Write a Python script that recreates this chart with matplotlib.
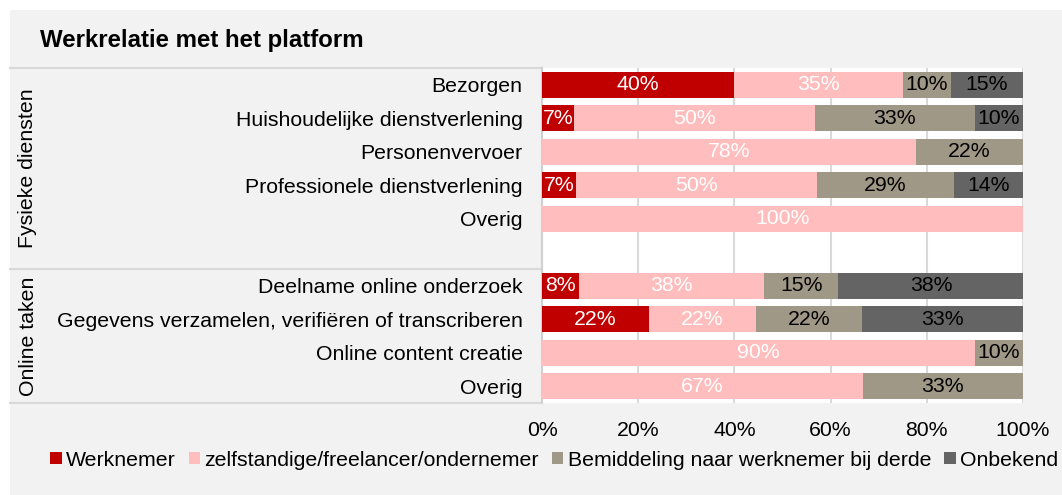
import matplotlib
matplotlib.use('Agg')
from matplotlib import pyplot as plt
from matplotlib.patches import Rectangle
from matplotlib.transforms import blended_transform_factory
import numpy as np

plt.rcParams['font.family'] = ['Liberation Sans', 'DejaVu Sans']

# data (percentages, '' = empty spacer row)
categories = ['Bezorgen', 'Huishoudelijke dienstverlening', 'Personenvervoer',
              'Professionele dienstverlening', 'Overig', '',
              'Deelname online onderzoek',
              'Gegevens verzamelen, verifiëren of transcriberen',
              'Online content creatie', 'Overig']
werknemer = [40, 6.7, 0, 7.1, 0, 0, 7.7, 22.2, 0, 0]
zelfstandig = [35, 50, 77.8, 50, 100, 0, 38.5, 22.2, 90, 66.7]
bemiddeling = [10, 33.3, 22.2, 28.6, 0, 0, 15.4, 22.2, 10, 33.3]
onbekend = [15, 10, 0, 14.3, 0, 0, 38.5, 33.3, 0, 0]
series_names = ['Werknemer', 'zelfstandige/freelancer/ondernemer',
                'Bemiddeling naar werknemer bij derde', 'Onbekend']
groups = ['Fysieke diensten', 'Online taken']
group_edges = [-0.5, 5.5, 9.5]

colors = ['#C00000', '#FFBDBD', '#A09886', '#646464']
text_colors = ['white', 'white', 'black', 'black']
W, H = 1062, 495
FS = 15.3

fig = plt.figure(figsize=(W / 100, H / 100), dpi=100)
fig.patch.set_facecolor('white')
fig.add_artist(Rectangle((10 / W, 0), 1 - 10 / W, 1 - 10 / H, transform=fig.transFigure,
                         facecolor='#F2F2F2', edgecolor='none', zorder=-5))

ax = fig.add_axes([542 / W, 1 - 403 / H, (1023 - 542) / W, (403 - 68) / H])
ax.set_facecolor('white')

y = np.arange(len(categories))
left = np.zeros(len(categories))
for vals, name, c, tc in zip([werknemer, zelfstandig, bemiddeling, onbekend],
                             series_names, colors, text_colors):
    vals = np.array(vals, dtype=float)
    ax.barh(y, vals, left=left, height=0.78, color=c, label=name, zorder=3)
    for yi, (l, v) in enumerate(zip(left, vals)):
        if v > 0:
            ax.text(l + v / 2, yi, f'{v:.0f}%', ha='center', va='center',
                    color=tc, fontsize=FS, zorder=4)
    left += vals

ax.set_xlim(0, 100)
ax.set_ylim(9.5, -0.5)
ax.set_xticks(np.arange(0, 101, 20))
ax.set_xticklabels([f'{t}%' for t in range(0, 101, 20)])
ax.set_yticks(y)
ax.set_yticklabels(categories)
ax.tick_params(axis='both', length=0, labelsize=FS, colors='black')
ax.tick_params(axis='y', pad=14)
ax.tick_params(axis='x', pad=13)
ax.grid(axis='x', color='#D9D9D9', linewidth=1.5, zorder=0)
ax.set_axisbelow(True)
for s in ['top', 'right', 'bottom']:
    ax.spines[s].set_visible(False)
ax.spines['left'].set_color('#D0D0D0')
ax.spines['left'].set_linewidth(1.5)

# group separators and labels on the left
tr = blended_transform_factory(fig.transFigure, ax.transData)
for e in group_edges:
    ax.plot([10 / W, 542 / W], [e, e], transform=tr, color='#D9D9D9',
            linewidth=1.5, clip_on=False)
for g, a, b in zip(groups, group_edges[:-1], group_edges[1:]):
    ax.text(28 / W, (a + b) / 2, g, transform=tr, rotation=90, ha='center',
            va='center', fontsize=FS)

fig.text(40 / W, 1 - 40 / H, 'Werkrelatie met het platform', fontsize=17.3,
         fontweight='bold', ha='left', va='center')

fig.legend(loc='center', bbox_to_anchor=(554 / W, 1 - 460 / H), ncol=4,
           frameon=False, fontsize=FS, handlelength=0.55, handleheight=0.55,
           handletextpad=0.2, columnspacing=0.6, borderpad=0)

fig.savefig('out.png', dpi=100)
